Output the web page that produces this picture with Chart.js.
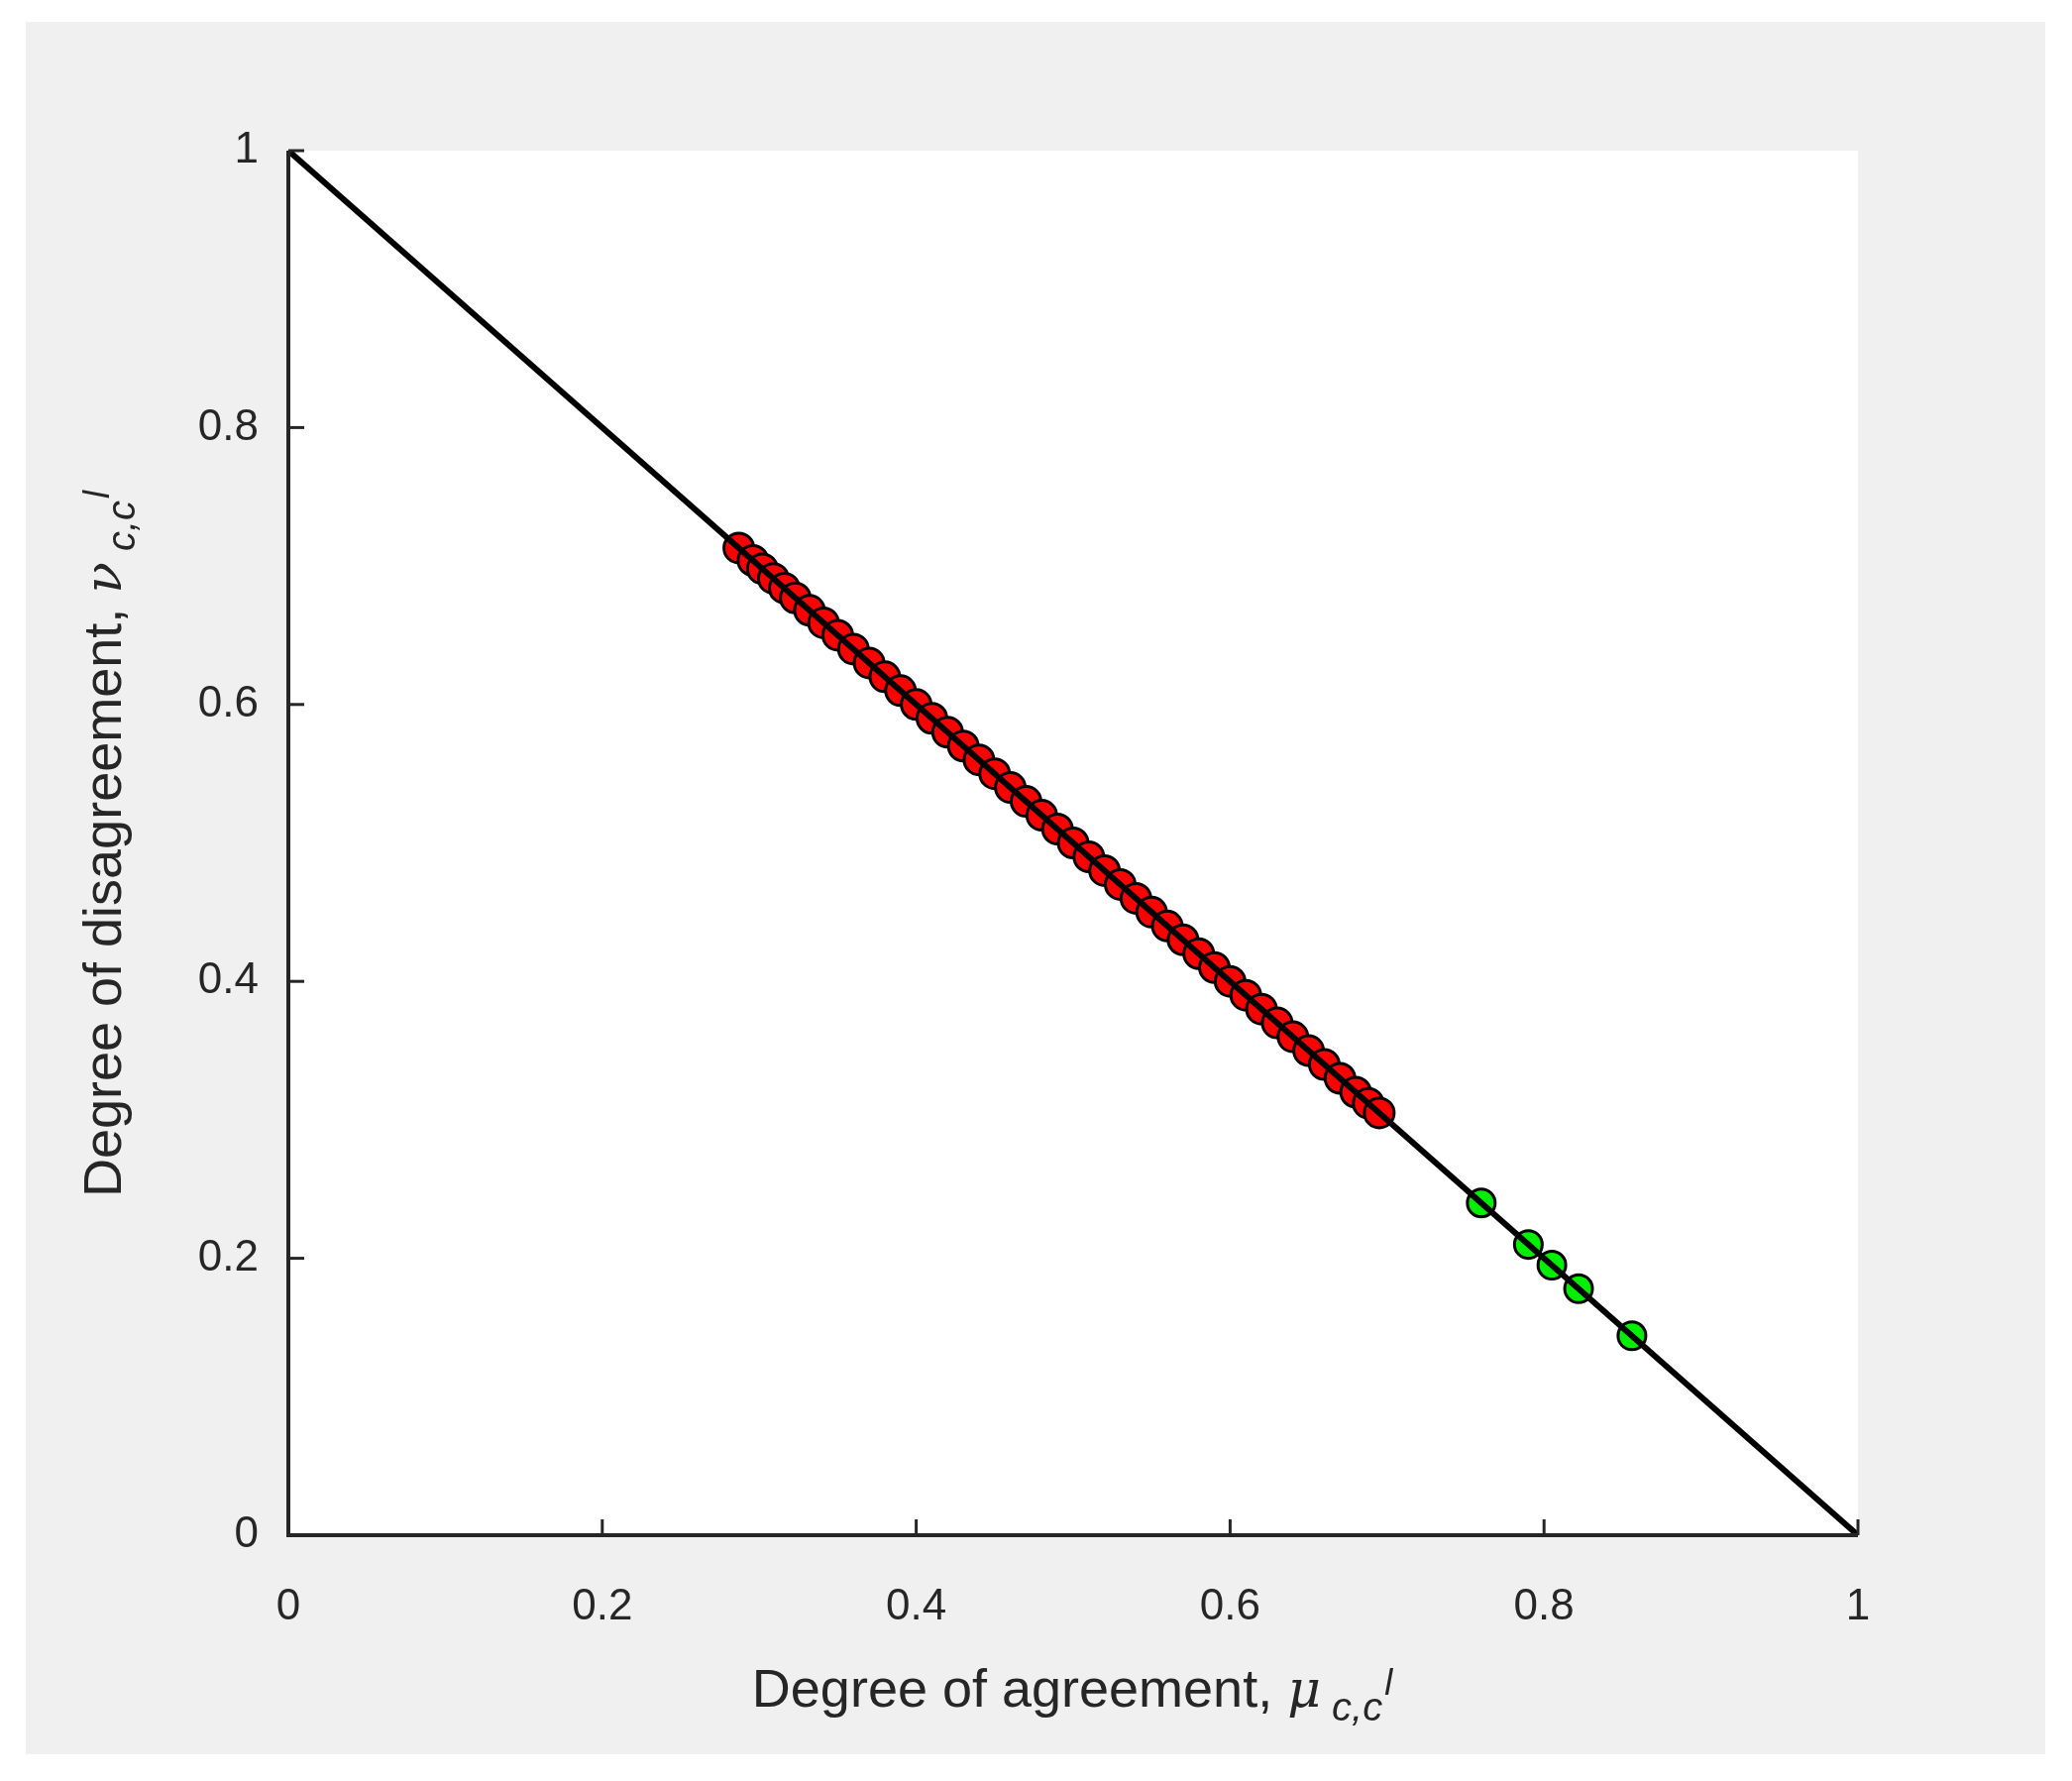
<!DOCTYPE html>
<html><head><meta charset="utf-8">
<script src="https://cdn.jsdelivr.net/npm/chart.js@4"></script>
<style>html,body{margin:0;padding:0;background:#fff}canvas{display:block}</style>
</head><body>
<canvas id="c" width="2091" height="1797"></canvas>
<script>
const lineX = [0, 1];
const lineY = [1, 0];
const redX = [0.287,0.296,0.302,0.309,0.316,0.323,0.332,0.341,0.350,0.360,0.370,0.380,0.390,0.400,0.410,0.420,0.430,0.440,0.450,0.460,0.470,0.480,0.490,0.500,0.510,0.520,0.530,0.540,0.550,0.560,0.570,0.580,0.590,0.600,0.610,0.620,0.630,0.640,0.650,0.660,0.670,0.680,0.688,0.695];
const redY = [0.713,0.704,0.698,0.691,0.684,0.677,0.668,0.659,0.650,0.640,0.630,0.620,0.610,0.600,0.590,0.580,0.570,0.560,0.550,0.540,0.530,0.520,0.510,0.500,0.490,0.480,0.470,0.460,0.450,0.440,0.430,0.420,0.410,0.400,0.390,0.380,0.370,0.360,0.350,0.340,0.330,0.320,0.312,0.305];
const greenX = [0.760,0.790,0.805,0.822,0.856];
const greenY = [0.240,0.210,0.195,0.178,0.144];
const tickVals = [0,0.2,0.4,0.6,0.8,1];
const tickLabels = ['0','0.2','0.4','0.6','0.8','1'];
const xTitle = 'Degree of agreement, ';
const yTitle = 'Degree of disagreement, ';

const pts=(xs,ys)=>xs.map((x,i)=>({x,y:ys[i]}));
const F='"Liberation Sans", Arial, sans-serif';
const AX='#262626';

const deco={id:'deco',
 beforeDraw(ch){const c=ch.ctx,a=ch.chartArea;c.save();
  c.fillStyle='#fff';c.fillRect(0,0,ch.width,ch.height);
  c.fillStyle='#f0f0f0';c.fillRect(26,22,2038,1748);
  c.fillStyle='#fff';c.fillRect(a.left,a.top,a.right-a.left,a.bottom-a.top);c.restore();},
 afterDatasetsDraw(ch){const c=ch.ctx,a=ch.chartArea,xs=ch.scales.x,ys=ch.scales.y;c.save();
  c.strokeStyle=AX;c.lineWidth=3;
  tickVals.forEach(v=>{const px=xs.getPixelForValue(v);c.beginPath();c.moveTo(px,a.bottom);c.lineTo(px,a.bottom-16);c.stroke();
   const py=ys.getPixelForValue(v);c.beginPath();c.moveTo(a.left,py);c.lineTo(a.left+16,py);c.stroke();});
  c.lineWidth=4;c.beginPath();c.moveTo(a.left,a.top);c.lineTo(a.left,a.bottom);c.lineTo(a.right,a.bottom);c.stroke();
  c.fillStyle=AX;c.textBaseline='alphabetic';
  // x title
  c.font='54px '+F;const w1=c.measureText(xTitle).width;
  c.font='italic 52px "DejaVu Serif", serif';const wm=c.measureText('μ').width;
  c.font='italic 40px '+F;const ws=c.measureText(' c,c').width;
  let x0=(a.left+a.right)/2-(w1+wm+ws+12)/2,yb=1722;
  c.font='54px '+F;c.fillText(xTitle,x0,yb);x0+=w1;
  c.font='italic 52px "DejaVu Serif", serif';c.fillText('μ',x0,yb);x0+=wm;
  c.font='italic 40px '+F;c.fillText(' c,c',x0,yb+14);x0+=ws;
  c.font='italic 36px '+F;c.fillText('l',x0+2,yb-12);
  // y title
  c.translate(122,(a.top+a.bottom)/2);c.rotate(-Math.PI/2);
  c.font='54px '+F;const v1=c.measureText(yTitle).width;
  c.font='italic 52px "DejaVu Serif", serif';const vm=c.measureText('ν').width;
  c.font='italic 40px '+F;const vs=c.measureText(' c,c').width;
  let y0=-(v1+vm+vs+12)/2;
  c.font='54px '+F;c.fillText(yTitle,y0,0);y0+=v1;
  c.font='italic 52px "DejaVu Serif", serif';c.fillText('ν',y0,0);y0+=vm;
  c.font='italic 40px '+F;c.fillText(' c,c',y0,14);y0+=vs;
  c.font='italic 36px '+F;c.fillText('l',y0+2,-12);
  c.restore();}
};

new Chart(document.getElementById('c'),{
 type:'scatter',
 data:{datasets:[
  {type:'line',data:pts(lineX,lineY),borderColor:'#000',borderWidth:6,pointRadius:0,showLine:true,fill:false,order:0},
  {data:pts(greenX,greenY),backgroundColor:'#00ee00',borderColor:'#000',borderWidth:3,pointRadius:14,order:1},
  {data:pts(redX,redY),backgroundColor:'#ff0000',borderColor:'#000',borderWidth:3,pointRadius:15,order:2}
 ]},
 plugins:[deco],
 options:{responsive:false,animation:false,devicePixelRatio:1,
  layout:{padding:{left:0,top:152,right:216,bottom:0}},
  plugins:{legend:{display:false},tooltip:{enabled:false}},
  scales:{
   x:{type:'linear',min:0,max:1,grid:{display:false},border:{display:false},
      afterFit(s){s.height=248;},
      afterBuildTicks(s){s.ticks=tickVals.map(v=>({value:v}));},
      ticks:{padding:38,color:AX,font:{family:F,size:44},callback:(v)=>tickLabels[tickVals.indexOf(v)]}},
   y:{type:'linear',min:0,max:1,grid:{display:false},border:{display:false},
      afterFit(s){s.width=291;},
      afterBuildTicks(s){s.ticks=tickVals.map(v=>({value:v}));},
      ticks:{padding:22,color:AX,font:{family:F,size:44},callback:(v)=>tickLabels[tickVals.indexOf(v)]}}
  }}
});
</script>
</body></html>
